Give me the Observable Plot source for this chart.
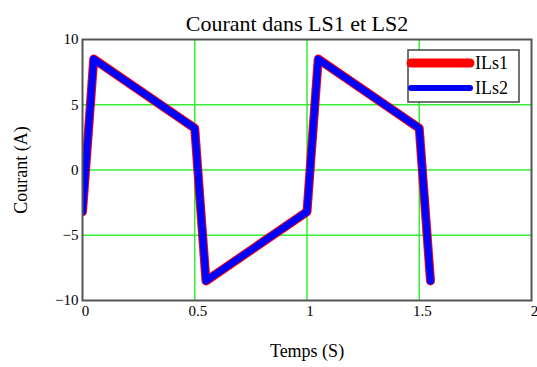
<!DOCTYPE html>
<html>
<head>
<meta charset="utf-8">
<script src="https://cdn.jsdelivr.net/npm/d3@7"></script>
<script src="https://cdn.jsdelivr.net/npm/@observablehq/plot@0.6"></script>
<style>
  html, body { margin: 0; padding: 0; background: #fff; }
</style>
</head>
<body>
<div id="chart"></div>
<script>
// Data
const temps = [0, 0.05, 0.5, 0.55, 1.0, 1.05, 1.5, 1.55];
const ils1  = [-3.2, 8.5, 3.2, -8.5, -3.2, 8.5, 3.2, -8.5];
const ils2  = [-3.2, 8.5, 3.2, -8.5, -3.2, 8.5, 3.2, -8.5];
const xTicks = [0, 0.5, 1, 1.5, 2];
const yTicks = [-10, -5, 0, 5, 10];
const xGrid = [0.5, 1, 1.5];
const yGrid = [-5, 0, 5];
const seriesNames = ["ILs1", "ILs2"];
const seriesColors = ["#ff0000", "#0000ff"];
const title = "Courant dans LS1 et LS2";
const xLabel = "Temps (S)";
const yLabel = "Courant (A)";

const d1 = temps.map((t, i) => ({t, v: ils1[i]}));
const d2 = temps.map((t, i) => ({t, v: ils2[i]}));
const fmt = d => d < 0 ? "\u2212" + Math.abs(d) : String(d);
const serif = "'Liberation Serif', 'Times New Roman', serif";

const chart = Plot.plot({
  width: 537,
  height: 367,
  marginLeft: 82,
  marginRight: 6,
  marginTop: 39,
  marginBottom: 67,
  style: {fontFamily: serif, color: "#000", background: "#fff"},
  x: {domain: [0, 2]},
  y: {domain: [-10, 10]},
  marks: [
    Plot.gridX(xGrid, {stroke: "#33ee33", strokeOpacity: 1, strokeWidth: 1.5}),
    Plot.gridY(yGrid, {stroke: "#33ee33", strokeOpacity: 1, strokeWidth: 1.5}),
    Plot.line(d1, {x: "t", y: "v", stroke: seriesColors[0], strokeWidth: 9, strokeLinejoin: "round", strokeLinecap: "round", clip: true}),
    Plot.line(d2, {x: "t", y: "v", stroke: seriesColors[1], strokeWidth: 7, strokeLinejoin: "round", strokeLinecap: "round", clip: true}),
    Plot.frame({stroke: "#555", strokeWidth: 2}),
    Plot.axisX({ticks: xTicks, tickFormat: fmt, tickSize: 0, tickPadding: 5, dx: 3,
      label: xLabel, labelAnchor: "center", labelOffset: 56, labelArrow: "none"}),
    Plot.axisY({ticks: yTicks, tickFormat: fmt, tickSize: 0, tickPadding: 4,
      label: yLabel, labelAnchor: "center", labelOffset: 68, labelArrow: "none"}),
    Plot.text([title], {frameAnchor: "top", dy: -24, dx: -10, fontSize: 22})
  ]
});
document.getElementById("chart").appendChild(chart);

const svg = d3.select(chart);
// font sizes: tick labels 15px, axis titles 18px
svg.selectAll("g[aria-label='x-axis tick label'], g[aria-label='y-axis tick label']").attr("font-size", 15);
svg.selectAll("g[aria-label='x-axis tick label'] text, g[aria-label='y-axis tick label'] text").attr("font-size", 15);
svg.selectAll("g[aria-label='x-axis label'], g[aria-label='y-axis label']").attr("font-size", 18);
svg.selectAll("g[aria-label='x-axis label'] text, g[aria-label='y-axis label'] text").attr("font-size", 18);

// Legend inside plot
const lg = svg.append("g").attr("font-family", serif).attr("font-size", 18).attr("text-anchor", "start");
lg.append("rect").attr("x", 408).attr("y", 50).attr("width", 111).attr("height", 52)
  .attr("fill", "#fff").attr("stroke", "#444").attr("stroke-width", 1.5);
seriesNames.forEach((name, i) => {
  const y = 63 + i * 25;
  lg.append("line").attr("x1", 411).attr("x2", 470).attr("y1", y).attr("y2", y)
    .attr("stroke", seriesColors[i]).attr("stroke-width", i === 0 ? 9 : 6).attr("stroke-linecap", "round");
  lg.append("text").attr("x", 475).attr("y", y).attr("dy", "0.35em").attr("text-anchor", "start").text(name);
});
</script>
</body>
</html>
